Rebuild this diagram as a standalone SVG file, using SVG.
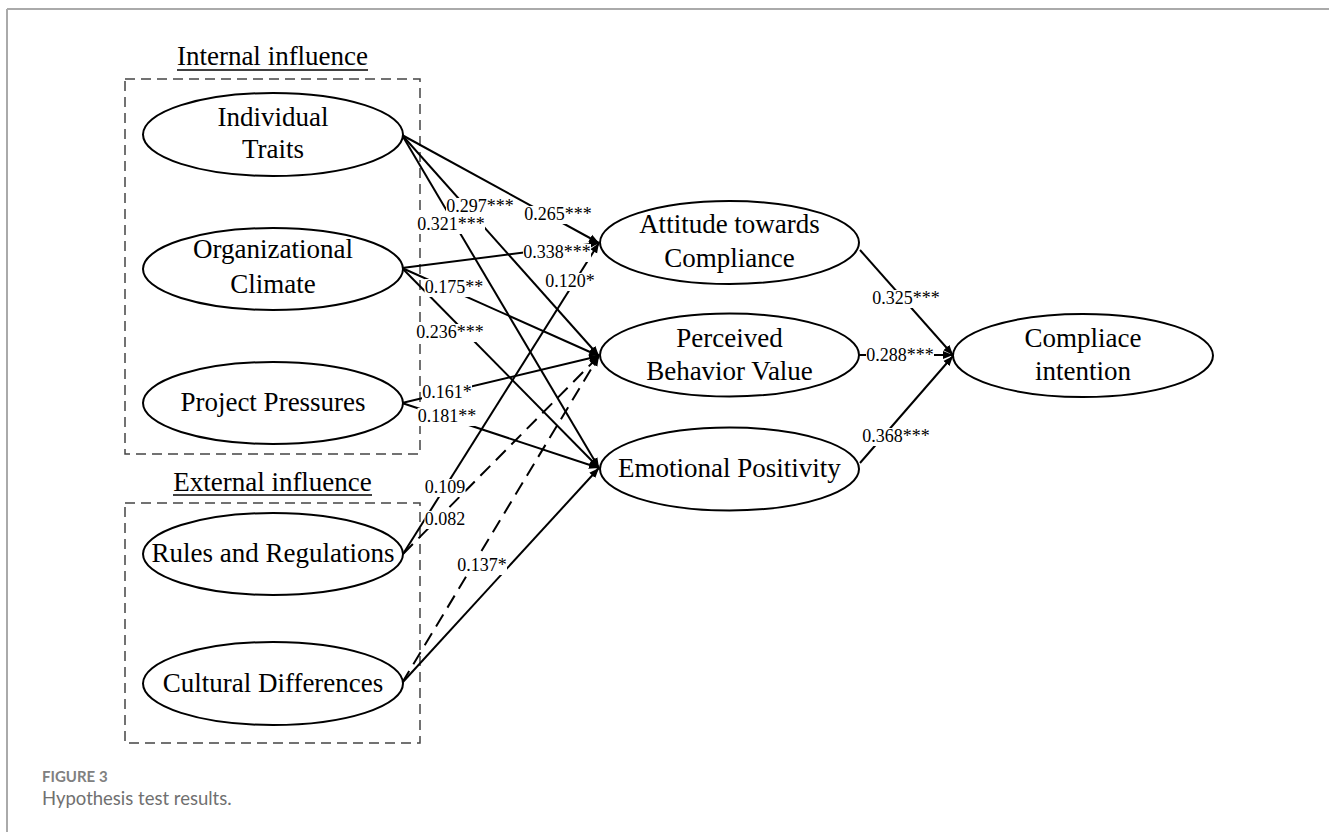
<svg xmlns="http://www.w3.org/2000/svg" width="1329" height="832" viewBox="0 0 1329 832">
<style>
.frame{stroke:#aaaaaa;stroke-width:2;fill:none}
.box{fill:none;stroke:#444;stroke-width:1.5;stroke-dasharray:10 6}
.node ellipse{fill:#fff;stroke:#000;stroke-width:2}
.nt{font-family:"Liberation Serif","Times New Roman",serif;font-size:27px;fill:#000;text-anchor:middle}
.title{font-family:"Liberation Serif","Times New Roman",serif;font-size:27px;fill:#000;text-anchor:middle}
.ul{stroke:#000;stroke-width:1.5}
.c{stroke:#000;stroke-width:2;fill:none;marker-end:url(#ah)}
.d{stroke-dasharray:14 8}
.mask rect{fill:#fff;stroke:none}
.lb{font-family:"Liberation Serif","Times New Roman",serif;font-size:18px;fill:#000;text-anchor:middle}
.cap1{font-family:"Lato","Open Sans",sans-serif;font-size:15px;font-weight:bold;fill:#808080}
.cap2{font-family:"Lato","Open Sans",sans-serif;font-size:18.5px;fill:#707070}
</style>
<defs>
<marker id="ah" markerUnits="userSpaceOnUse" markerWidth="11" markerHeight="10" refX="10" refY="5" orient="auto">
<path d="M0,1 L10,5 L0,9 z" fill="#000"/>
</marker>
</defs>
<rect width="1329" height="832" fill="#fff"/>
<g id="frame">
<line class="frame" x1="7" y1="9" x2="1329" y2="9"/>
<line class="frame" x1="7" y1="9" x2="7" y2="832"/>
</g>
<g id="groups">
<rect class="box" x="125" y="79" width="295" height="375"/>
<rect class="box" x="125" y="503" width="295" height="240"/>
<text class="title" x="272.5" y="65">Internal influence</text>
<line class="ul" x1="177" y1="70" x2="368" y2="70"/>
<text class="title" x="272.5" y="491">External influence</text>
<line class="ul" x1="173" y1="495" x2="372" y2="495"/>
</g>
<g id="connectors">
<line class="c" x1="402" y1="135" x2="599" y2="243"/>
<line class="c" x1="402" y1="135" x2="599" y2="356"/>
<line class="c" x1="402" y1="135" x2="599" y2="468"/>
<line class="c" x1="402" y1="268" x2="599" y2="243"/>
<line class="c" x1="402" y1="268" x2="599" y2="356"/>
<line class="c" x1="402" y1="268" x2="599" y2="468"/>
<line class="c" x1="402" y1="403" x2="599" y2="356"/>
<line class="c" x1="402" y1="403" x2="599" y2="468"/>
<line class="c" x1="403" y1="554" x2="599" y2="243"/>
<line class="c d" x1="403" y1="554" x2="599" y2="356"/>
<line class="c d" x1="402" y1="683" x2="599" y2="356"/>
<line class="c" x1="402" y1="683" x2="599" y2="468"/>
<line class="c" x1="860" y1="250" x2="953" y2="355"/>
<line class="c" x1="859" y1="355" x2="953" y2="355"/>
<line class="c" x1="860" y1="463" x2="953" y2="356"/>
</g>
<g id="label-masks" class="mask">
<rect x="524" y="206" width="68" height="18"/>
<rect x="446" y="198" width="68" height="18"/>
<rect x="417" y="216" width="68" height="18"/>
<rect x="523" y="244" width="68" height="18"/>
<rect x="424.5" y="279" width="59" height="18"/>
<rect x="416" y="324" width="68" height="18"/>
<rect x="422" y="384" width="50" height="18"/>
<rect x="417.5" y="408" width="59" height="18"/>
<rect x="545" y="273" width="50" height="18"/>
<rect x="424.5" y="479" width="41" height="18"/>
<rect x="424.5" y="511" width="41" height="18"/>
<rect x="457" y="557" width="50" height="18"/>
<rect x="872" y="290" width="68" height="18"/>
<rect x="866" y="347" width="68" height="18"/>
<rect x="862" y="428" width="68" height="18"/>
</g>
<g id="labels">
<text class="lb" x="558" y="220">0.265***</text>
<text class="lb" x="480" y="212">0.297***</text>
<text class="lb" x="451" y="230">0.321***</text>
<text class="lb" x="557" y="258">0.338***</text>
<text class="lb" x="454" y="293">0.175**</text>
<text class="lb" x="450" y="338">0.236***</text>
<text class="lb" x="447" y="398">0.161*</text>
<text class="lb" x="447" y="422">0.181**</text>
<text class="lb" x="570" y="287">0.120*</text>
<text class="lb" x="445" y="493">0.109</text>
<text class="lb" x="445" y="525">0.082</text>
<text class="lb" x="482" y="571">0.137*</text>
<text class="lb" x="906" y="304">0.325***</text>
<text class="lb" x="900" y="361">0.288***</text>
<text class="lb" x="896" y="442">0.368***</text>
</g>
<g id="n-individual-traits" class="node">
<ellipse cx="273" cy="134.5" rx="130" ry="41.5"/>
<text class="nt" x="273" y="126">Individual</text>
<text class="nt" x="273" y="158">Traits</text>
</g>
<g id="n-organizational-climate" class="node">
<ellipse cx="273" cy="269" rx="130" ry="41"/>
<text class="nt" x="273" y="258">Organizational</text>
<text class="nt" x="273" y="293">Climate</text>
</g>
<g id="n-project-pressures" class="node">
<ellipse cx="273" cy="403" rx="130" ry="41"/>
<text class="nt" x="273" y="411">Project Pressures</text>
</g>
<g id="n-rules-regulations" class="node">
<ellipse cx="273" cy="554" rx="130" ry="41"/>
<text class="nt" x="273" y="562">Rules and Regulations</text>
</g>
<g id="n-cultural-differences" class="node">
<ellipse cx="273" cy="683.5" rx="130" ry="41.5"/>
<text class="nt" x="273" y="692">Cultural Differences</text>
</g>
<g id="n-attitude" class="node">
<ellipse cx="729.5" cy="242.5" rx="129.5" ry="41.5"/>
<text class="nt" x="729.5" y="233">Attitude towards</text>
<text class="nt" x="729.5" y="267">Compliance</text>
</g>
<g id="n-perceived-behavior-value" class="node">
<ellipse cx="729.5" cy="355" rx="129.5" ry="41.5"/>
<text class="nt" x="729.5" y="347">Perceived</text>
<text class="nt" x="729.5" y="380">Behavior Value</text>
</g>
<g id="n-emotional-positivity" class="node">
<ellipse cx="729.5" cy="469" rx="129.5" ry="41.5"/>
<text class="nt" x="729.5" y="477">Emotional Positivity</text>
</g>
<g id="n-compliance-intention" class="node">
<ellipse cx="1083" cy="355.5" rx="130" ry="41.5"/>
<text class="nt" x="1083" y="347">Compliace</text>
<text class="nt" x="1083" y="380">intention</text>
</g>
<g id="caption">
<text class="cap1" x="42" y="782">FIGURE 3</text>
<text class="cap2" x="42" y="805">Hypothesis test results.</text>
</g>
</svg>
